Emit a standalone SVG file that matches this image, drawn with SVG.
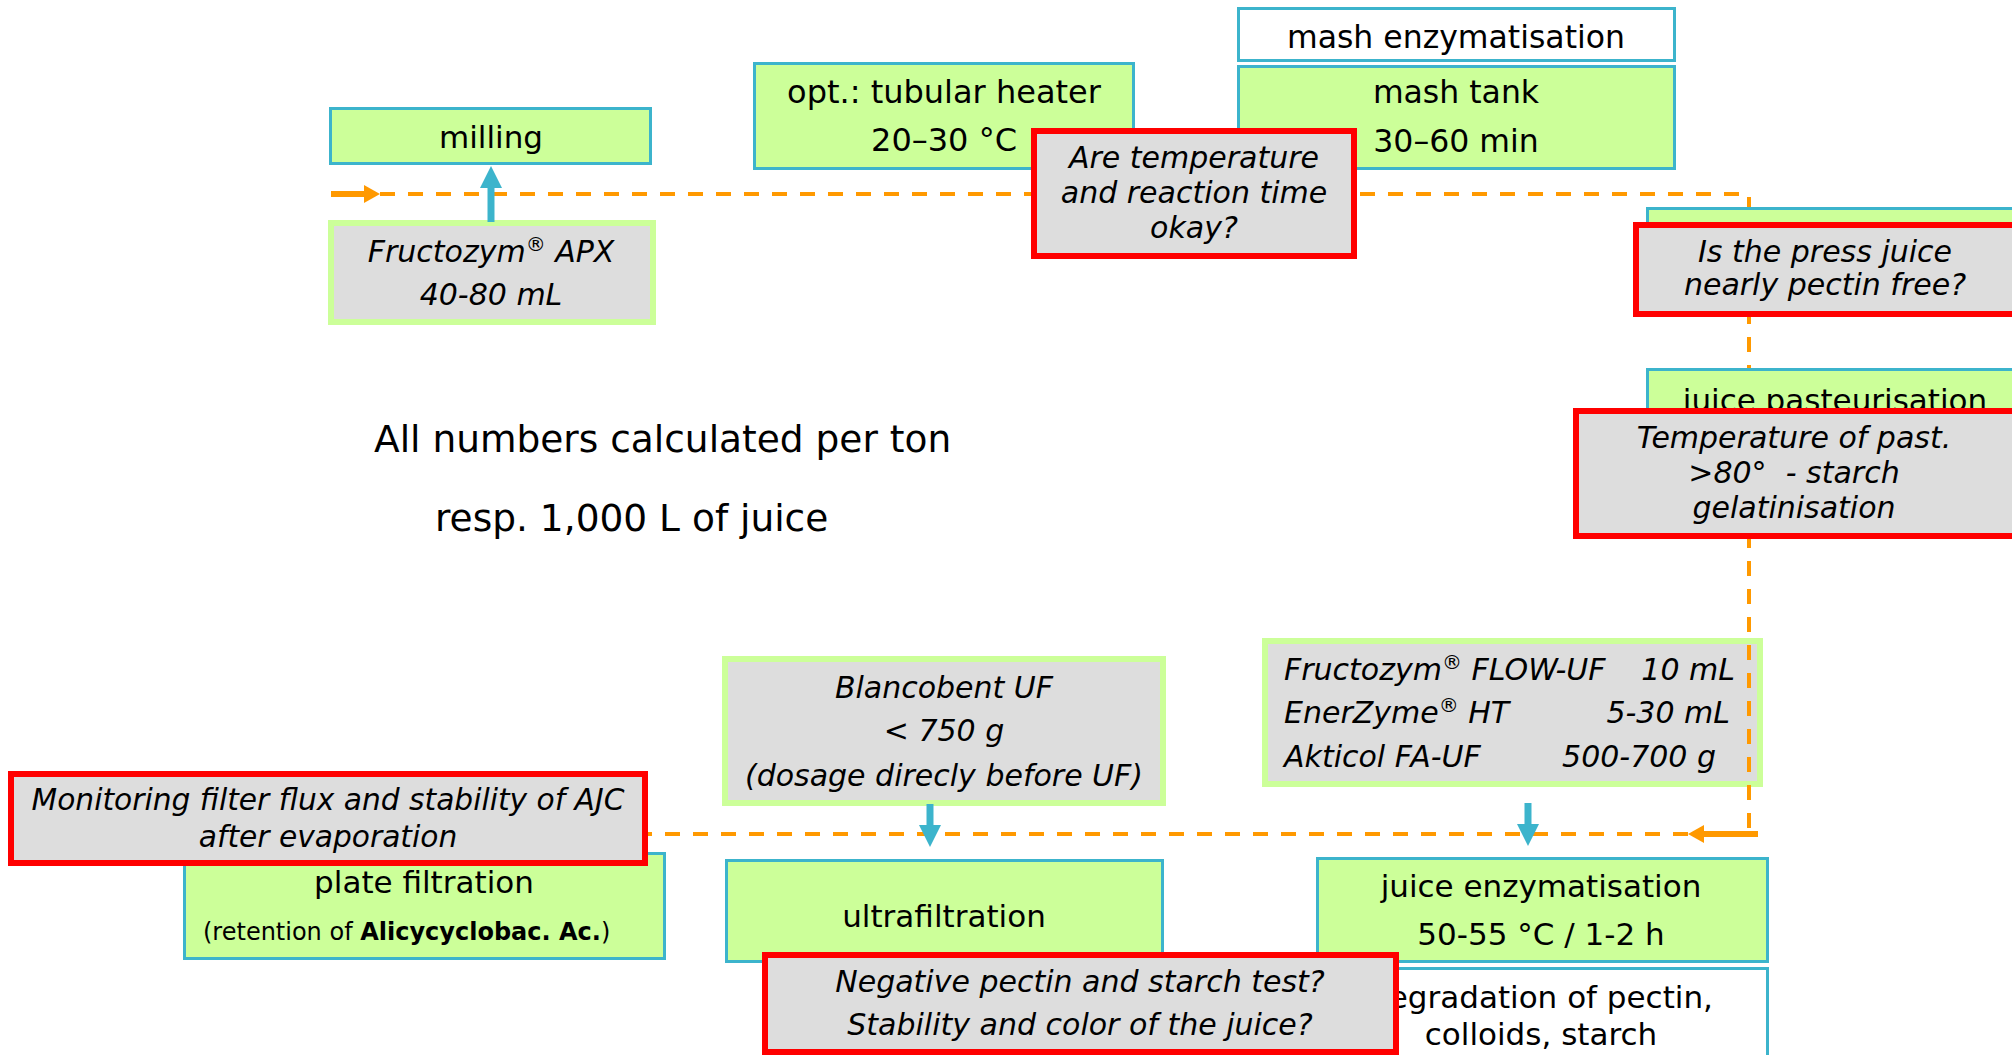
<svg xmlns="http://www.w3.org/2000/svg" width="2012" height="1055" viewBox="0 0 2012 1055">
<style>
text{font-family:"DejaVu Sans",Verdana,sans-serif;fill:#000;}
.c{text-anchor:middle;font-size:31px;}
.i{font-style:italic;font-size:30px;}
.e{text-anchor:end;}
.s{text-anchor:start;}
.proc{fill:#ccff99;stroke:#3cb4cc;stroke-width:3;}
.wht{fill:#ffffff;stroke:#3cb4cc;stroke-width:3;}
.dose{fill:#dddddd;stroke:#ccff99;stroke-width:6;}
.check{fill:#dddddd;stroke:#ff0000;stroke-width:6;}
.flow{fill:none;stroke:#ff9900;stroke-width:4;stroke-dasharray:15 13;}
.oshaft{fill:none;stroke:#ff9900;stroke-width:6;}
.tshaft{fill:none;stroke:#3cb4cc;stroke-width:7;}
.ohead{fill:#ff9900;}
.thead{fill:#3cb4cc;}
</style>
<defs>
<marker id="tArrow" markerUnits="userSpaceOnUse" markerWidth="30" markerHeight="30" refX="0" refY="0" orient="auto" overflow="visible"><path class="thead" d="M0,-11 L22,0 L0,11 Z"/></marker>
<marker id="oArrow" markerUnits="userSpaceOnUse" markerWidth="30" markerHeight="30" refX="0" refY="0" orient="auto" overflow="visible"><path class="ohead" d="M0,-9 L16,0 L0,9 Z"/></marker>
</defs>
<rect width="2012" height="1055" fill="#ffffff"/>

<g id="milling"><rect class="proc" x="330.5" y="108.5" width="320" height="55"/><text class="c" x="491" y="148">milling</text></g>
<g id="apx"><rect class="dose" x="331" y="223" width="322" height="99"/><text class="c i" x="491" y="262">Fructozym<tspan font-size="20" dy="-11">®</tspan><tspan dy="11"> APX</tspan></text><text class="c i" x="491" y="305">40-80 mL</text></g>
<g id="tubular"><rect class="proc" x="754.5" y="63.5" width="379" height="105"/><text class="c" style="font-size:32px" x="944" y="103">opt.: tubular heater</text><text class="c" style="font-size:32px" x="944" y="151">20–30 °C</text></g>
<g id="mash-enz"><rect class="wht" x="1238.5" y="8.5" width="436" height="52"/><text class="c" style="font-size:31.5px" x="1456" y="48">mash enzymatisation</text></g>
<g id="mash-tank"><rect class="proc" x="1238.5" y="66.5" width="436" height="102"/><text class="c" style="font-size:31.5px" x="1456" y="103">mash tank</text><text class="c" style="font-size:31.5px" x="1456" y="152">30–60 min</text></g>
<g id="note"><text style="font-size:37.5px" x="374" y="452">All numbers calculated per ton</text><text style="font-size:37.5px" x="435" y="531">resp. 1,000 L of juice</text></g>
<g id="blancobent"><rect class="dose" x="725" y="659" width="438" height="144"/><text class="c i" x="944" y="698">Blancobent UF</text><text class="c i" x="944" y="741">&lt; 750 g</text><text class="c i" x="944" y="786">(dosage direcly before UF)</text></g>
<g id="flow-uf"><rect class="dose" x="1265" y="641" width="495" height="143"/>
<text class="i s" x="1284" y="680">Fructozym<tspan font-size="20" dy="-11">®</tspan><tspan dy="11"> FLOW-UF</tspan></text><text class="i e" x="1735" y="680">10 mL</text>
<text class="i s" x="1284" y="723">EnerZyme<tspan font-size="20" dy="-11">®</tspan><tspan dy="11"> HT</tspan></text><text class="i e" x="1730" y="723">5-30 mL</text>
<text class="i s" x="1284" y="767">Akticol FA-UF</text><text class="i e" x="1716" y="767">500-700 g</text></g>
<g id="plate"><rect class="proc" x="184.5" y="853.5" width="480" height="105"/><text class="c" x="424" y="893">plate filtration</text><text class="s" style="font-size:24px" x="203" y="940">(retention of <tspan font-weight="bold">Alicycyclobac. Ac.</tspan>)</text></g>
<g id="ultra"><rect class="proc" x="726.5" y="860.5" width="436" height="101"/><text class="c" x="944" y="927">ultrafiltration</text></g>
<g id="juice-enz"><rect class="proc" x="1317.5" y="858.5" width="450" height="103"/><text class="c" x="1541" y="897">juice enzymatisation</text><text class="c" x="1541" y="945">50-55 °C / 1-2 h</text></g>
<g id="degradation"><rect class="wht" x="1317.5" y="968.5" width="450" height="100"/><text class="c" x="1541" y="1008">degradation of pectin,</text><text class="c" x="1541" y="1045">colloids, starch</text></g>

<g id="connectors">
<path class="flow" d="M380,194 H1749 V834"/>
<path class="flow" d="M1688,834 H600"/>
<line class="oshaft" x1="331" y1="194" x2="364" y2="194" marker-end="url(#oArrow)"/>
<line class="oshaft" x1="1758" y1="834" x2="1704" y2="834" marker-end="url(#oArrow)"/>
<line class="tshaft" x1="491" y1="222" x2="491" y2="188" marker-end="url(#tArrow)"/>
<line class="tshaft" x1="930" y1="804" x2="930" y2="825" marker-end="url(#tArrow)"/>
<line class="tshaft" x1="1528" y1="803" x2="1528" y2="824" marker-end="url(#tArrow)"/>
</g>

<g id="check-temp"><rect class="check" x="1034" y="131" width="320" height="125"/><text class="c i" x="1194" y="168">Are temperature</text><text class="c i" x="1194" y="203">and reaction time</text><text class="c i" x="1194" y="238">okay?</text></g>
<g id="press"><rect class="proc" x="1647.5" y="208.5" width="400" height="100"/></g>
<g id="check-press"><rect class="check" x="1636" y="225" width="400" height="89"/><text class="c i" x="1825" y="262">Is the press juice</text><text class="c i" x="1825" y="295">nearly pectin free?</text></g>
<g id="pasteurisation"><rect class="proc" x="1647.5" y="369.5" width="400" height="80"/><text class="c" x="1835" y="411">juice pasteurisation</text></g>
<g id="check-past"><rect class="check" x="1576" y="411" width="440" height="125"/><text class="c i" x="1794" y="448">Temperature of past.</text><text class="c i" x="1794" y="483" xml:space="preserve">&gt;80°  - starch</text><text class="c i" x="1794" y="518">gelatinisation</text></g>
<g id="check-monitor"><rect class="check" x="11" y="774" width="634" height="89"/><text class="c i" style="font-size:29.7px" x="328" y="810">Monitoring filter flux and stability of AJC</text><text class="c i" style="font-size:29.7px" x="328" y="847">after evaporation</text></g>
<g id="check-pectin"><rect class="check" x="765" y="955" width="631" height="97"/><text class="c i" x="1080" y="992">Negative pectin and starch test?</text><text class="c i" x="1080" y="1035">Stability and color of the juice?</text></g>
</svg>
